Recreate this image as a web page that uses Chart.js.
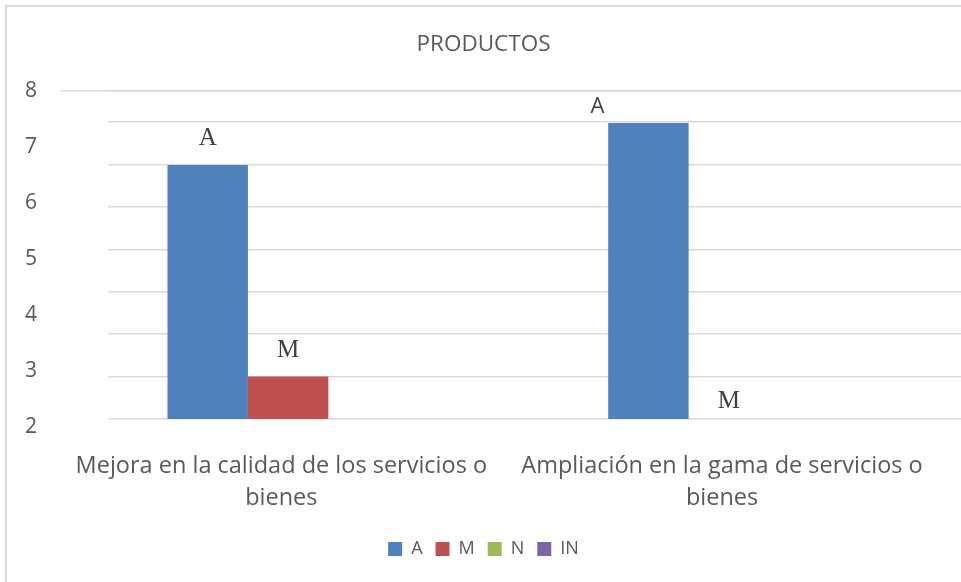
<!DOCTYPE html>
<html>
<head>
<meta charset="utf-8">
<script src="https://cdn.jsdelivr.net/npm/chart.js@4/dist/chart.umd.min.js"></script>
<style>
  html, body { margin: 0; padding: 0; background: #fff; overflow: hidden; }
  #frame { position: absolute; left: 5px; top: 5px; width: 2000px; height: 2000px;
           border-left: 2px solid #d9d9d9; border-top: 2px solid #d9d9d9; }
  #wrap { position: absolute; left: 0; top: 0; width: 993px; height: 582px; }
</style>
</head>
<body>
<div id="frame"></div>
<div id="wrap"><canvas id="chart"></canvas></div>
<script>
const categories = [
  ["Mejora en la calidad de los servicios o", "bienes"],
  ["Ampliación en la gama de servicios o", "bienes"],
];
const seriesA = [6.68, 7.43];
const seriesM = [2.9, 2];
const seriesN = [null, null];
const seriesIN = [null, null];
const yTicks = [2, 3, 4, 5, 6, 7, 8];

const TEXT = "#595959";
const GRID = "#d9d9d9";

// bar letters above each bar; the right "A" sits off to the left in the original
const barLetters = {
  id: "barLetters",
  afterDatasetsDraw(chart) {
    const ctx = chart.ctx;
    chart.data.datasets.forEach((ds, i) => {
      const meta = chart.getDatasetMeta(i);
      meta.data.forEach((bar, j) => {
        if (ds.data[j] === null) return;
        let dx = 0, dy = 26, font = "25px 'Liberation Serif'";
        if (i === 0 && j === 1) { dx = -51; dy = 16; font = "22px 'Open Sans'"; }
        const top = Math.min(bar.y, bar.base);
        ctx.save();
        ctx.fillStyle = "#404040";
        ctx.font = font;
        ctx.textAlign = "center";
        ctx.textBaseline = "middle";
        ctx.fillText(ds.label, bar.x + dx, top - dy);
        ctx.restore();
      });
    });
  },
};

new Chart(document.getElementById("chart"), {
  type: "bar",
  data: {
    labels: categories,
    datasets: [
      { label: "A", data: seriesA, backgroundColor: "#4F81BD" },
      { label: "M", data: seriesM, backgroundColor: "#C0504D" },
      { label: "N", data: seriesN, backgroundColor: "#9BBB59" },
      { label: "IN", data: seriesIN, backgroundColor: "#8064A2" },
    ],
  },
  options: {
    responsive: true,
    maintainAspectRatio: false,
    animation: false,
    layout: { padding: { left: -25, right: 1, top: 0, bottom: 14 } },
    datasets: { bar: { categoryPercentage: 0.73, barPercentage: 1 } },
    plugins: {
      title: {
        display: true,
        text: "PRODUCTOS",
        color: TEXT,
        font: { family: "'Open Sans'", size: 22.5, weight: "normal" },
        padding: { top: 31, bottom: 33 },
      },
      legend: {
        position: "bottom",
        labels: {
          color: TEXT,
          boxWidth: 14,
          boxHeight: 14,
          padding: 13,
          font: { family: "'Open Sans'", size: 18 },
        },
      },
      tooltip: { enabled: false },
    },
    scales: {
      x: {
        grid: { display: false },
        border: { display: false },
        ticks: {
          color: TEXT,
          padding: 23,
          labelOffset: -47,
          maxRotation: 0,
          autoSkip: false,
          font: { family: "'Open Sans'", size: 23.5, lineHeight: 1.36 },
        },
        afterFit: (s) => { s.height = 108; },
      },
      y: {
        position: "left",
        weight: 0,
        min: 2.143,
        max: 8,
        grid: {
          color: (c) => (c.tick && c.tick.value === 8 ? GRID : "rgba(0,0,0,0)"),
          tickColor: (c) => (c.tick && c.tick.value === 8 ? GRID : "rgba(0,0,0,0)"),
          lineWidth: 1.5,
          tickLength: 48,
        },
        border: { display: false },
        afterBuildTicks: (s) => { s.ticks = yTicks.map((v) => ({ value: v })); },
        ticks: {
          color: TEXT,
          padding: 23,
          font: { family: "'Open Sans'", size: 21 },
        },
        afterFit: (s) => { s.width = 133; },
      },
      yg: {
        position: "left",
        weight: 2,
        min: 0,
        max: 7.73,
        grid: { color: GRID, lineWidth: 1.5, drawTicks: false },
        border: { display: false },
        ticks: { display: false, stepSize: 1 },
        afterFit: (s) => { s.width = 0; },
      },
    },
  },
  plugins: [barLetters],
});
</script>
</body>
</html>
